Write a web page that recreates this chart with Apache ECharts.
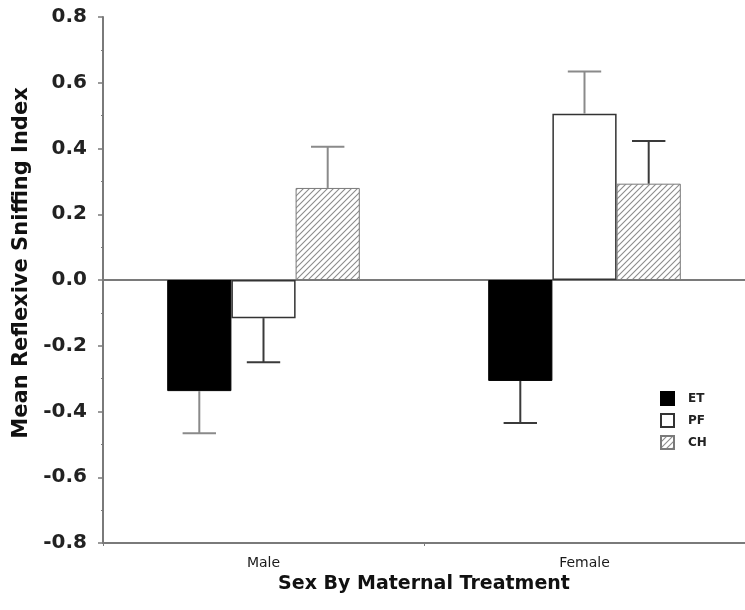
<!DOCTYPE html>
<html>
<head>
<meta charset="utf-8">
<script src="https://cdn.jsdelivr.net/npm/echarts@6/dist/echarts.min.js"></script>
<style>html,body{margin:0;padding:0;background:#fff;}#c{width:745px;height:610px;}</style>
</head>
<body>
<div id="c"></div>
<script>
var categories = ['Male', 'Female'];
var seriesNames = ['ET', 'PF', 'CH'];
var etMean = [-0.338, -0.307];
var etErr = [0.128, 0.128];
var pfMean = [-0.116, 0.506];
var pfErr = [0.134, 0.128];
var chMean = [0.280, 0.293];
var chErr = [0.125, 0.130];
var yTicks = [-0.8, -0.6, -0.4, -0.2, 0.0, 0.2, 0.4, 0.6, 0.8];

// error bar colours per series, per category (style, not data)
var errColors = [['#8a8a8a', '#3a3a3a'], ['#3a3a3a', '#8a8a8a'], ['#8a8a8a', '#3a3a3a']];

function hatch() {
  var c = document.createElement('canvas');
  var s = 6;
  c.width = s; c.height = s;
  var g = c.getContext('2d');
  g.fillStyle = '#ffffff';
  g.fillRect(0, 0, s, s);
  g.strokeStyle = '#8c8c8c';
  g.lineWidth = 1.1;
  g.beginPath();
  g.moveTo(0, s); g.lineTo(s, 0);
  g.moveTo(-1, 1); g.lineTo(1, -1);
  g.moveTo(s - 1, s + 1); g.lineTo(s + 1, s - 1);
  g.stroke();
  return c;
}

var means = [etMean, pfMean, chMean];
var errs = [etErr, pfErr, chErr];
var errData = [];
for (var si = 0; si < 3; si++) {
  for (var ci = 0; ci < categories.length; ci++) {
    var m = means[si][ci];
    var e = errs[si][ci];
    errData.push([ci, m, m + (m >= 0 ? e : -e), si]);
  }
}

var chart = echarts.init(document.getElementById('c'), null, {renderer: 'canvas'});
var barStyles = [
  {color: '#000000', borderColor: '#000000', borderWidth: 1},
  {color: '#ffffff', borderColor: '#333333', borderWidth: 1.5},
  {color: {image: hatch(), repeat: 'repeat'}, borderColor: '#7a7a7a', borderWidth: 1}
];

var series = seriesNames.map(function (n, i) {
  var s = {
    name: n,
    type: 'bar',
    data: means[i],
    barWidth: '20%',
    barGap: '0%',
    itemStyle: barStyles[i],
    silent: true,
    z: 3
  };
  if (i === 0) {
    s.markLine = {
      silent: true,
      symbol: 'none',
      label: {show: false},
      lineStyle: {color: '#7a7a7a', width: 2, type: 'solid'},
      data: [{yAxis: 0}],
      z: 2
    };
  }
  return s;
});

series.push({
  type: 'custom',
  name: 'err',
  silent: true,
  z: 4,
  encode: {x: 0, y: [1, 2]},
  data: errData,
  renderItem: function (params, api) {
    var ci = api.value(0), m = api.value(1), end = api.value(2), s = api.value(3);
    var band = api.size([1, 0])[0];
    var bw = band * 0.2;
    var p0 = api.coord([ci, m]);
    var p1 = api.coord([ci, end]);
    var x = p0[0] + (s - 1) * bw;
    var half = bw * 0.26;
    var col = errColors[s][ci];
    return {
      type: 'group',
      children: [
        {type: 'line', shape: {x1: x, y1: p0[1], x2: x, y2: p1[1]}, style: {stroke: col, lineWidth: 2}},
        {type: 'line', shape: {x1: x - half, y1: p1[1], x2: x + half, y2: p1[1]}, style: {stroke: col, lineWidth: 2}}
      ]
    };
  }
});

chart.setOption({
  animation: false,
  backgroundColor: '#ffffff',
  grid: {left: 103, right: -8, top: 17, bottom: 67, containLabel: false},
  legend: {
    data: seriesNames,
    orient: 'vertical',
    left: 655,
    top: 386,
    itemWidth: 13,
    itemHeight: 13,
    itemGap: 7,
    icon: 'rect',
    textStyle: {fontFamily: 'DejaVu Sans', fontSize: 12, fontWeight: 'bold', color: '#222', padding: [0, 0, 0, 9]},
    selectedMode: false
  },
  xAxis: {
    type: 'category',
    data: categories,
    axisLine: {onZero: false, lineStyle: {color: '#7a7a7a', width: 2}},
    axisTick: {show: true, length: 3, lineStyle: {color: '#7a7a7a'}},
    axisLabel: {fontFamily: 'DejaVu Sans', fontSize: 14, color: '#1a1a1a', margin: 13},
    name: 'Sex By Maternal Treatment',
    nameLocation: 'middle',
    nameGap: 30,
    nameTextStyle: {fontFamily: 'DejaVu Sans', fontSize: 19, fontWeight: 'bold', color: '#111'}
  },
  yAxis: {
    type: 'value',
    min: -0.8,
    max: 0.8,
    interval: 0.2,
    axisLine: {show: true, lineStyle: {color: '#7a7a7a', width: 2}},
    axisTick: {show: true, length: 5, lineStyle: {color: '#7a7a7a', width: 1.5}},
    minorTick: {show: true, splitNumber: 2, length: 2, lineStyle: {color: '#7a7a7a'}},
    splitLine: {show: false},
    axisLabel: {
      fontFamily: 'DejaVu Sans', fontSize: 20, fontWeight: 'bold', color: '#222', margin: 16,
      formatter: function (v) { return v.toFixed(1); }
    },
    name: 'Mean Reflexive Sniffing Index',
    nameLocation: 'middle',
    nameGap: 58,
    nameTextStyle: {fontFamily: 'DejaVu Sans', fontSize: 21, fontWeight: 'bold', color: '#111', padding: [0, 0, 0, 34]}
  },
  series: series
});
</script>
</body>
</html>
